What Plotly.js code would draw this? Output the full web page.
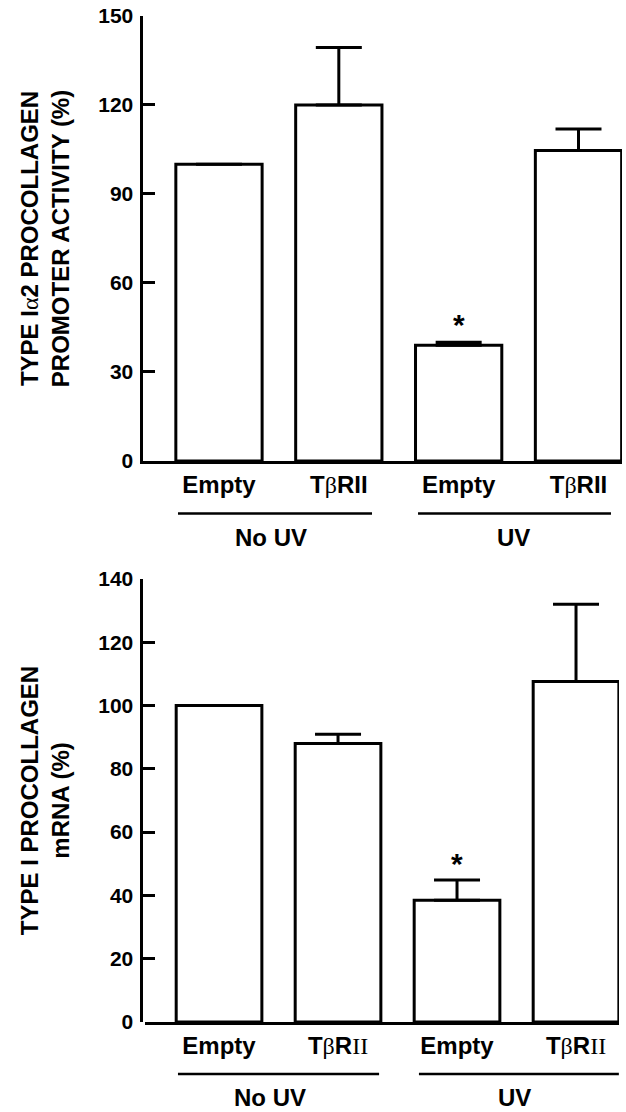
<!DOCTYPE html>
<html>
<head>
<meta charset="utf-8">
<script src="https://cdn.plot.ly/plotly-3.0.1.min.js"></script>
<style>html,body{margin:0;padding:0;background:#fff;}#chart{width:626px;height:1112px;}</style>
</head>
<body>
<div id="chart"></div>
<script>
// ---- data ----
var positions = [0, 1, 2, 3];
var beta = '<span style="font-family:\'Liberation Serif\',serif;font-weight:normal">β</span>';
var serifII = '<span style="font-family:\'Liberation Serif\',serif;font-weight:normal">II</span>';
var topTickLabels = ['Empty', 'T' + beta + 'RII', 'Empty', 'T' + beta + 'RII'];
var bottomTickLabels = ['Empty', 'T' + beta + 'R' + serifII, 'Empty', 'T' + beta + 'R' + serifII];
var groupLabels = ['No UV', 'UV'];

var topValues = [100, 120, 39, 104.7];
var topErrors = [0, 19.4, 1.0, 7.2];
var bottomValues = [100, 88, 38.5, 107.6];
var bottomErrors = [0, 2.9, 6.4, 24.4];
var sigIndex = 2;

var topTitle = 'TYPE I<span style="font-family:\'Liberation Serif\',serif;font-weight:normal">α</span>2 PROCOLLAGEN<br>PROMOTER ACTIVITY (%)';
var bottomTitle = 'TYPE I PROCOLLAGEN<br>mRNA (%)';

// ---- chart ----
var FONT = 'Liberation Sans, Arial, Helvetica, sans-serif';
function zeros(a){ return a.map(function(){ return 0; }); }

function barTrace(vals, errs, xa, ya){
  return {
    type: 'bar', x: positions, y: vals, xaxis: xa, yaxis: ya, width: 0.72,
    marker: {color: 'white', line: {color: 'black', width: 3}},
    error_y: {type: 'data', array: errs, arrayminus: zeros(errs), symmetric: false,
              color: 'black', thickness: 3, width: 23},
    hoverinfo: 'none'
  };
}

var data = [
  barTrace(topValues, topErrors, 'x', 'y'),
  barTrace(bottomValues, bottomErrors, 'x2', 'y2')
];

function yAxis(domain, range, dtick, title){
  return {
    domain: domain, range: range, dtick: dtick, tick0: 0,
    ticks: 'inside', ticklen: 12, tickwidth: 3, tickcolor: 'black',
    showline: true, linewidth: 3, linecolor: 'black',
    showgrid: false, zeroline: false, fixedrange: true,
    tickfont: {family: FONT, size: 21, color: 'black', weight: 'bold'},
    ticklabelstandoff: 3,
    title: {text: title, font: {family: FONT, size: 24, color: 'black', weight: 'bold'}, standoff: 22}
  };
}
function xAxis(domain, range, labels, anchor){
  return {
    domain: domain, range: range, anchor: anchor,
    tickvals: positions, ticktext: labels, ticks: '',
    showline: true, linewidth: 3, linecolor: 'black',
    showgrid: false, zeroline: false, fixedrange: true,
    tickfont: {family: FONT, size: 24, color: 'black', weight: 'bold'},
    ticklabelstandoff: 0
  };
}

var annFont = {family: FONT, size: 24, color: 'black', weight: 'bold'};
var layout = {
  width: 626, height: 1112,
  margin: {l: 143, r: 4, t: 16, b: 90},
  paper_bgcolor: 'white', plot_bgcolor: 'white',
  showlegend: false,
  font: {family: FONT, color: 'black'},
  xaxis: xAxis([0.001, 1], [-0.630, 3.363], topTickLabels, 'y'),
  yaxis: yAxis([0.5577, 1], [0, 150], 30, topTitle),
  xaxis2: xAxis([0.0042, 0.9937], [-0.622, 3.361], bottomTickLabels, 'y2'),
  yaxis2: yAxis([0, 0.4404], [0, 140], 20, bottomTitle),
  shapes: [
    {type: 'line', xref: 'x', yref: 'paper', x0: -0.342, x1: 1.277, y0: 0.5055, y1: 0.5055, line: {color: 'black', width: 2.5}},
    {type: 'line', xref: 'x', yref: 'paper', x0: 1.661, x1: 3.271, y0: 0.5055, y1: 0.5055, line: {color: 'black', width: 2.5}},
    {type: 'line', xref: 'x2', yref: 'paper', x0: -0.345, x1: 1.345, y0: -0.0517, y1: -0.0517, line: {color: 'black', width: 2.5}},
    {type: 'line', xref: 'x2', yref: 'paper', x0: 1.68, x1: 3.36, y0: -0.0517, y1: -0.0517, line: {color: 'black', width: 2.5}}
  ],
  annotations: [
    {xref: 'x', yref: 'paper', x: 0.43, y: 0.4816, text: groupLabels[0], showarrow: false, font: annFont, yanchor: 'middle'},
    {xref: 'x', yref: 'paper', x: 2.46, y: 0.4816, text: groupLabels[1], showarrow: false, font: annFont, yanchor: 'middle'},
    {xref: 'x2', yref: 'paper', x: 0.43, y: -0.0755, text: groupLabels[0], showarrow: false, font: annFont, yanchor: 'middle'},
    {xref: 'x2', yref: 'paper', x: 2.48, y: -0.0755, text: groupLabels[1], showarrow: false, font: annFont, yanchor: 'middle'},
    {xref: 'x', yref: 'y', x: positions[sigIndex], y: topValues[sigIndex] + topErrors[sigIndex], text: '*', showarrow: false,
     font: {family: FONT, size: 30, color: 'black', weight: 'bold'}, yanchor: 'bottom', yshift: -1},
    {xref: 'x2', yref: 'y2', x: positions[sigIndex], y: bottomValues[sigIndex] + bottomErrors[sigIndex], text: '*', showarrow: false,
     font: {family: FONT, size: 30, color: 'black', weight: 'bold'}, yanchor: 'bottom', yshift: -2}
  ]
};

Plotly.newPlot('chart', data, layout, {displayModeBar: false, staticPlot: true});
</script>
</body>
</html>
